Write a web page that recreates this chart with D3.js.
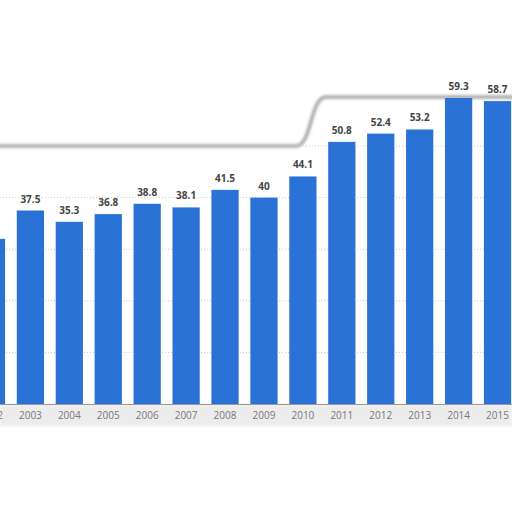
<!DOCTYPE html>
<html>
<head>
<meta charset="utf-8">
<script src="https://cdn.jsdelivr.net/npm/d3@7"></script>
<style>
  body { margin: 0; background: #fff; }
  svg { display: block; }
  .grid line { stroke: #c8c8c8; stroke-dasharray: 1,2; }
  .label { font-family: "Open Sans", sans-serif; font-size: 10px; font-weight: bold; fill: #444; text-anchor: middle; }
  .xAxis text { font-family: "Open Sans", sans-serif; font-size: 10px; fill: #777; }
</style>
</head>
<body>
<div id="chart"></div>
<script>
// data
var years = ["2002","2003","2004","2005","2006","2007","2008","2009","2010","2011","2012","2013","2014","2015"];
var values = [32.0, 37.5, 35.3, 36.8, 38.8, 38.1, 41.5, 40, 44.1, 50.8, 52.4, 53.2, 59.3, 58.7];
var gridTicks = [10, 20, 30, 40, 50];

var W = 512, H = 512;
var svg = d3.select("#chart").append("svg")
    .attr("width", W).attr("height", H);

// the chart is cropped on both sides, so the band scale runs past the edges
var x = d3.scaleBand()
    .domain(years)
    .range([-28, 517])
    .paddingInner(0.3)
    .paddingOuter(0.15);

var y = d3.scaleLinear()
    .domain([0, 60])
    .range([404, 94.4]);

// blurred frame around the plot (shadow of the cut-out)
var defs = svg.append("defs");
defs.append("filter").attr("id", "blur")
    .append("feGaussianBlur").attr("stdDeviation", 1.6);

svg.append("path")
    .attr("d", "M-5,146 L296,146 C312,146 310,97 326,97 L520,97")
    .attr("fill", "none")
    .attr("stroke", "#9a9a9a")
    .attr("stroke-width", 3)
    .attr("filter", "url(#blur)");

// light band under axis labels
svg.append("rect")
    .attr("x", 0).attr("y", 404).attr("width", W).attr("height", 22)
    .attr("fill", "#ececec")
    .attr("filter", "url(#blur)");

// grid
svg.append("g")
    .attr("class", "grid")
    .selectAll("line")
    .data(gridTicks)
    .join("line")
    .attr("x1", 0).attr("x2", W)
    .attr("y1", function(d) { return y(d); })
    .attr("y2", function(d) { return y(d); });

// bars
svg.selectAll(".bar")
    .data(values)
    .join("rect")
    .attr("class", "bar")
    .attr("x", function(d, i) { return x(years[i]); })
    .attr("width", x.bandwidth())
    .attr("y", function(d) { return y(d); })
    .attr("height", function(d) { return y(0) - y(d); })
    .attr("fill", "#2b72d6");

// value labels
svg.selectAll(".label")
    .data(values)
    .join("text")
    .attr("class", "label")
    .attr("x", function(d, i) { return x(years[i]) + x.bandwidth() / 2; })
    .attr("y", function(d) { return y(d) - 8; })
    .text(function(d) { return d; });

// x axis
svg.append("g")
    .attr("class", "xAxis")
    .attr("transform", "translate(0," + y(0) + ")")
    .call(d3.axisBottom(x).tickSize(0).tickPadding(8))
    .call(function(g) { g.select(".domain").attr("stroke", "#999"); });
</script>
</body>
</html>
